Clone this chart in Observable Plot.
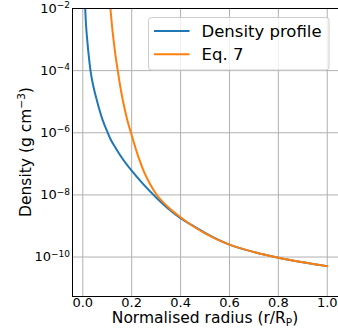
<!DOCTYPE html>
<html>
<head>
<meta charset="utf-8">
<script src="https://cdn.jsdelivr.net/npm/d3@7"></script>
<script src="https://cdn.jsdelivr.net/npm/@observablehq/plot@0.6"></script>
<style>
  html, body { margin: 0; padding: 0; background: #fff; }
  #chart { position: relative; width: 338px; height: 335px; }
</style>
</head>
<body>
<div id="chart"></div>
<script>
// Density profile (blue)
const profileRadius = [0.0098, 0.013, 0.018, 0.024, 0.0315, 0.043, 0.059, 0.081, 0.102, 0.113, 0.135, 0.157, 0.2, 0.25, 0.3, 0.35, 0.4, 0.45, 0.5, 0.6, 0.7, 0.8, 0.9, 1.0];
const profileDensity = [1.0e-2, 3.2e-3, 1.0e-3, 3.2e-4, 1.0e-4, 3.2e-5, 1.0e-5, 2.6e-6, 1.0e-6, 6.3e-7, 3.2e-7, 1.7e-7, 6.0e-8, 2.1e-8, 8.3e-9, 3.6e-9, 1.78e-9, 1.02e-9, 6.0e-10, 2.5e-10, 1.45e-10, 9.5e-11, 6.8e-11, 5.1e-11];
// Eq. 7 (orange)
const eqRadius = [0.113, 0.12, 0.127, 0.135, 0.143, 0.153, 0.165, 0.18, 0.2, 0.225, 0.25, 0.275, 0.3, 0.35, 0.4, 0.45, 0.5, 0.6, 0.7, 0.8, 0.9, 1.0];
const eqDensity = [1.0e-2, 2.5e-3, 8.3e-4, 2.6e-4, 1.0e-4, 3.2e-5, 1.0e-5, 3.0e-6, 8.3e-7, 1.9e-7, 5.6e-8, 2.24e-8, 1.07e-8, 4.0e-9, 1.9e-9, 1.0e-9, 5.8e-10, 2.5e-10, 1.45e-10, 9.5e-11, 6.8e-11, 5.1e-11];

const xTicks = [0.0, 0.2, 0.4, 0.6, 0.8, 1.0];
const yTicks = [1e-2, 1e-4, 1e-6, 1e-8, 1e-10];
const yTickExponents = ["−2", "−4", "−6", "−8", "−10"];
const seriesNames = ["Density profile", "Eq. 7"];
const seriesColors = ["#1f77b4", "#ff7f0e"];

const profile = profileRadius.map((r, i) => ({r, rho: profileDensity[i]}));
const eq = eqRadius.map((r, i) => ({r, rho: eqDensity[i]}));

const chart = Plot.plot({
  width: 338,
  height: 335,
  marginLeft: 72,
  marginRight: 0,
  marginTop: 8,
  marginBottom: 39,
  style: {fontFamily: "DejaVu Sans", fontSize: "13px", color: "#000", background: "#fff"},
  x: {domain: [-0.0421, 1.046], label: null},
  y: {type: "log", domain: [Math.pow(10, -11.27), 1e-2], label: null},
  marks: [
    Plot.gridX(xTicks, {stroke: "#b0b0b0", strokeOpacity: 1, strokeWidth: 1}),
    Plot.gridY(yTicks, {stroke: "#b0b0b0", strokeOpacity: 1, strokeWidth: 1}),
    Plot.axisX(xTicks, {tickSize: 0, tickPadding: 1.5, tickFormat: d3.format(".1f"), fontSize: 13}),
    Plot.axisY(yTicks, {tickSize: 0, tickPadding: 2.5, tickFormat: () => "10", fontSize: 13}),
    Plot.line(profile, {x: "r", y: "rho", stroke: seriesColors[0], strokeWidth: 2, curve: "monotone-x", clip: true}),
    Plot.line(eq, {x: "r", y: "rho", stroke: seriesColors[1], strokeWidth: 2, curve: "monotone-x", clip: true}),
    Plot.frame({stroke: "#000", strokeWidth: 1})
  ]
});

document.getElementById("chart").appendChild(chart);
const svg = d3.select(chart);

// superscript exponents on y tick labels
svg.selectAll('g[aria-label="y-axis tick label"] text').each(function(d, i) {
  const t = d3.select(this);
  t.text("");
  t.append("tspan").text("10");
  t.append("tspan").attr("dy", "-4.5px").attr("font-size", "9px").text(yTickExponents[i]);
});

// axis labels
const xl = svg.append("text")
  .attr("x", 205).attr("y", 323)
  .attr("text-anchor", "middle")
  .attr("font-family", "DejaVu Sans").attr("font-size", "15.5px").attr("fill", "#000");
xl.append("tspan").text("Normalised radius (r/R");
xl.append("tspan").attr("font-size", "10.5px").attr("dy", "2.5px").text("P");
xl.append("tspan").attr("dy", "-2.5px").text(")");

const yl = svg.append("text")
  .attr("transform", "translate(31,152) rotate(-90)")
  .attr("text-anchor", "middle")
  .attr("font-family", "DejaVu Sans").attr("font-size", "15.5px").attr("fill", "#000");
yl.append("tspan").text("Density (g cm");
yl.append("tspan").attr("font-size", "10.5px").attr("dy", "-6px").text("−3");
yl.append("tspan").attr("dy", "6px").text(")");

// legend
const lg = svg.append("g");
lg.append("rect")
  .attr("x", 148.5).attr("y", 17.5).attr("width", 180.5).attr("height", 52.5)
  .attr("rx", 3).attr("fill", "#fff").attr("fill-opacity", 0.8)
  .attr("stroke", "#cccccc").attr("stroke-width", 1);
seriesNames.forEach((name, i) => {
  const cy = 31 + i * 23.3;
  lg.append("line").attr("x1", 154).attr("x2", 189.5).attr("y1", cy).attr("y2", cy)
    .attr("stroke", seriesColors[i]).attr("stroke-width", 2);
  lg.append("text").attr("x", 201.5).attr("y", cy).attr("dy", "0.36em")
    .attr("text-anchor", "start")
    .attr("font-family", "DejaVu Sans").attr("font-size", "16.5px").attr("fill", "#000")
    .text(name);
});
</script>
</body>
</html>
